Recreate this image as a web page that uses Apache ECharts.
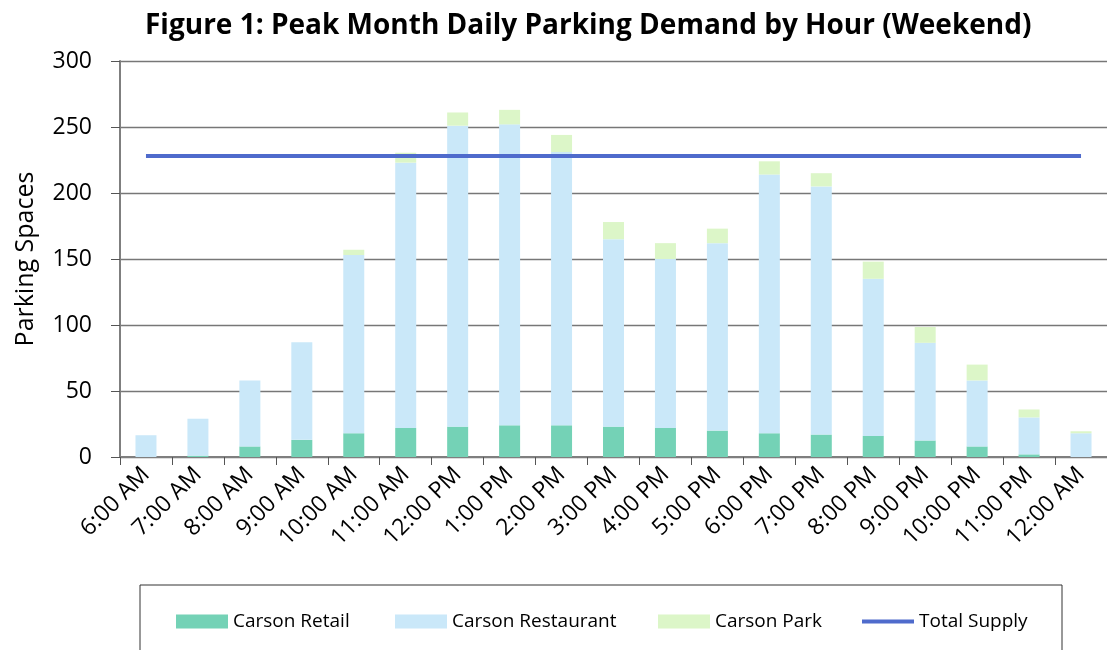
<!DOCTYPE html>
<html>
<head>
<meta charset="utf-8">
<script src="https://cdn.jsdelivr.net/npm/echarts@6/dist/echarts.min.js"></script>
<style>
	html, body { margin: 0; padding: 0; background: #fff; }
	#main { width: 1107px; height: 650px; }
</style>
</head>
<body>
<div id="main"></div>
<script>
var hours = ['6:00 AM', '7:00 AM', '8:00 AM', '9:00 AM', '10:00 AM', '11:00 AM', '12:00 PM', '1:00 PM', '2:00 PM', '3:00 PM',
	'4:00 PM', '5:00 PM', '6:00 PM', '7:00 PM', '8:00 PM', '9:00 PM', '10:00 PM', '11:00 PM', '12:00 AM'];
var retail = [0, 1, 8, 13, 18, 22, 23, 24, 24, 23, 22, 20, 18, 17, 16, 12.5, 8, 2, 0];
var restaurant = [16.5, 28, 50, 74, 135, 201, 228, 228, 207, 142, 128, 142, 196, 188, 119, 74, 50, 28, 18];
var park = [0, 0, 0, 0, 4, 7.5, 10, 11, 13, 13, 12, 11, 10, 10, 13, 12, 12, 6, 1.5];
var supply = [228, 228, 228, 228, 228, 228, 228, 228, 228, 228, 228, 228, 228, 228, 228, 228, 228, 228, 228];
var yTicks = [0, 50, 100, 150, 200, 250, 300];

var font = '"Open Sans", sans-serif';
var myChart = echarts.init(document.getElementById('main'));

// one legend per item so each can sit where it does in the picture
function legendAt(name, left, icon, h) {
	return {
		data: [{ name: name, icon: icon }],
		left: left - 5,
		top: 607,
		itemWidth: 52,
		itemHeight: h,
		itemGap: 5,
		textStyle: { fontFamily: font, fontSize: 19, color: '#000' }
	};
}

option = {
	animation: false,
	title: {
		text: 'Figure 1: Peak Month Daily Parking Demand by Hour (Weekend)',
		left: 140,
		top: 7,
		textStyle: { fontFamily: font, fontSize: 28, fontWeight: 'bold', color: '#000' }
	},
	legend: [
		legendAt('Carson Retail', 176, 'rect', 14),
		legendAt('Carson Restaurant', 395, 'rect', 14),
		legendAt('Carson Park', 658, 'rect', 14),
		legendAt('Total Supply', 862, 'rect', 4)
	],
	graphic: [{
		type: 'rect',
		shape: { x: 140, y: 585, width: 922, height: 80 },
		style: { fill: 'none', stroke: '#333', lineWidth: 1 }
	}],
	grid: { left: 120, top: 61, width: 990, height: 396 },
	xAxis: {
		type: 'category',
		data: hours,
		axisLine: { lineStyle: { color: '#7f7f7f', width: 2 } },
		axisTick: { show: true, length: 8, lineStyle: { color: '#555' } },
		axisLabel: { rotate: 45, margin: 14, fontFamily: font, fontSize: 23, color: '#000', interval: 0 }
	},
	yAxis: {
		type: 'value',
		min: yTicks[0],
		max: yTicks[yTicks.length - 1],
		interval: 50,
		name: 'Parking Spaces',
		nameLocation: 'middle',
		nameGap: 82,
		nameTextStyle: { fontFamily: font, fontSize: 25, color: '#000' },
		axisLine: { show: true, lineStyle: { color: '#7f7f7f', width: 2 } },
		axisTick: { show: true, length: 9, lineStyle: { color: '#555' } },
		axisLabel: { margin: 28, fontFamily: font, fontSize: 23, color: '#000' },
		splitLine: { lineStyle: { color: '#777', width: 1.3 } }
	},
	series: [{
			name: 'Carson Retail',
			type: 'bar',
			stack: 'demand',
			barWidth: 21,
			itemStyle: { color: '#74d2b6' },
			data: retail
		},
		{
			name: 'Carson Restaurant',
			type: 'bar',
			stack: 'demand',
			barWidth: 21,
			itemStyle: { color: '#cae8f9' },
			data: restaurant
		},
		{
			name: 'Carson Park',
			type: 'bar',
			stack: 'demand',
			barWidth: 21,
			itemStyle: { color: '#dcf6c8' },
			data: park
		},
		{
			name: 'Total Supply',
			type: 'line',
			symbol: 'none',
			lineStyle: { color: '#4f6bcc', width: 4 },
			itemStyle: { color: '#4f6bcc' },
			data: supply
		}
	]
};
myChart.setOption(option);
</script>
</body>
</html>
